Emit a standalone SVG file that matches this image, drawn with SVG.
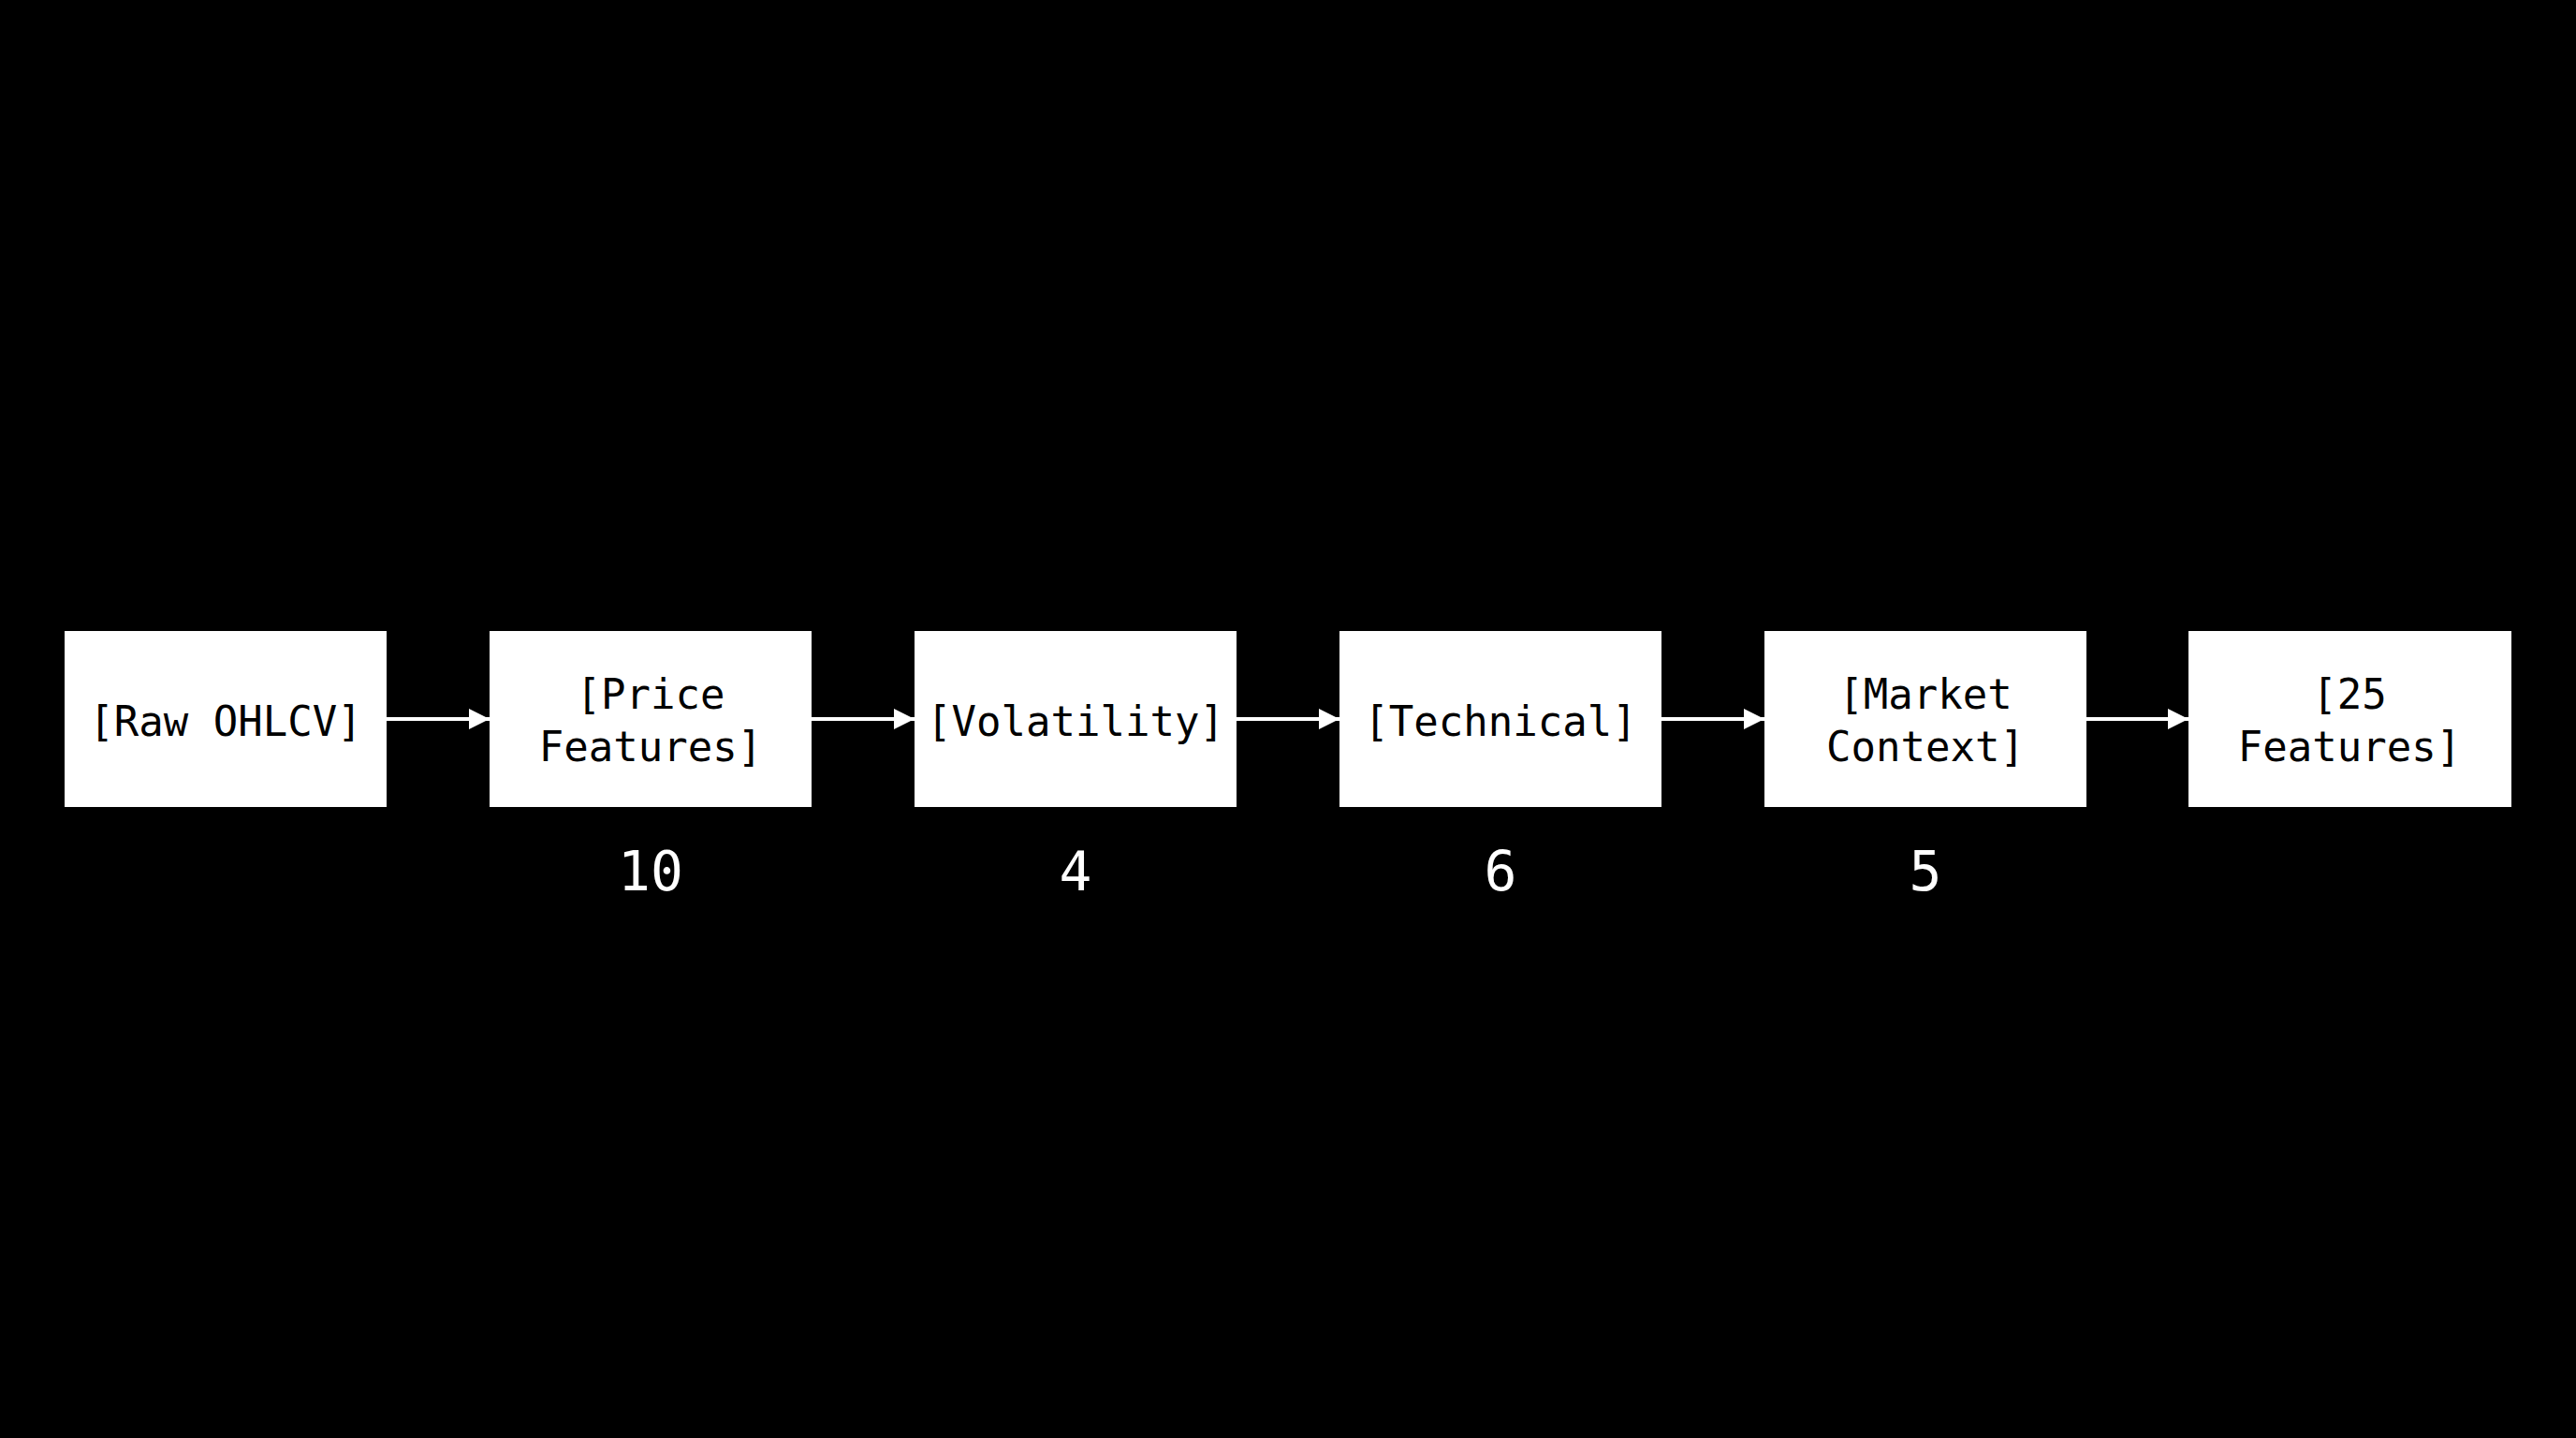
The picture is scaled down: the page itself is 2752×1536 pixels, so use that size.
<svg xmlns="http://www.w3.org/2000/svg" width="2752" height="1536" viewBox="0 0 2752 1536">
<style>
.box{fill:#ffffff;}
.lbl{font-family:"DejaVu Sans Mono","Liberation Mono",monospace;font-size:44px;fill:#000;text-anchor:middle;}
.num{font-family:"DejaVu Sans Mono","Liberation Mono",monospace;font-size:58px;fill:#fff;text-anchor:middle;}
.conn{stroke:#fff;stroke-width:4;fill:none;}
</style>
<defs>
<marker id="ah" markerUnits="userSpaceOnUse" markerWidth="24" markerHeight="24" refX="22" refY="11" orient="auto">
<path d="M0,0 L22,11 L0,22 Z" fill="#fff"/>
</marker>
</defs>
<rect width="2752" height="1536" fill="#000"/>
<g id="connectors">
<line class="conn" x1="413" y1="768" x2="523" y2="768" marker-end="url(#ah)"/>
<line class="conn" x1="867" y1="768" x2="977" y2="768" marker-end="url(#ah)"/>
<line class="conn" x1="1321" y1="768" x2="1431" y2="768" marker-end="url(#ah)"/>
<line class="conn" x1="1775" y1="768" x2="1885" y2="768" marker-end="url(#ah)"/>
<line class="conn" x1="2229" y1="768" x2="2338" y2="768" marker-end="url(#ah)"/>
</g>
<g id="raw">
<rect class="box" x="69" y="674" width="344" height="188"/>
<text class="lbl" x="241" y="786">[Raw OHLCV]</text>
</g>
<g id="price">
<rect class="box" x="523" y="674" width="344" height="188"/>
<text class="lbl" x="695" y="757">[Price</text>
<text class="lbl" x="695" y="813">Features]</text>
<text class="num" x="695" y="951">10</text>
</g>
<g id="volatility">
<rect class="box" x="977" y="674" width="344" height="188"/>
<text class="lbl" x="1149" y="786">[Volatility]</text>
<text class="num" x="1149" y="951">4</text>
</g>
<g id="technical">
<rect class="box" x="1431" y="674" width="344" height="188"/>
<text class="lbl" x="1603" y="786">[Technical]</text>
<text class="num" x="1603" y="951">6</text>
</g>
<g id="market">
<rect class="box" x="1885" y="674" width="344" height="188"/>
<text class="lbl" x="2057" y="757">[Market</text>
<text class="lbl" x="2057" y="813">Context]</text>
<text class="num" x="2057" y="951">5</text>
</g>
<g id="features25">
<rect class="box" x="2338" y="674" width="345" height="188"/>
<text class="lbl" x="2510" y="757">[25</text>
<text class="lbl" x="2510" y="813">Features]</text>
</g>
</svg>
